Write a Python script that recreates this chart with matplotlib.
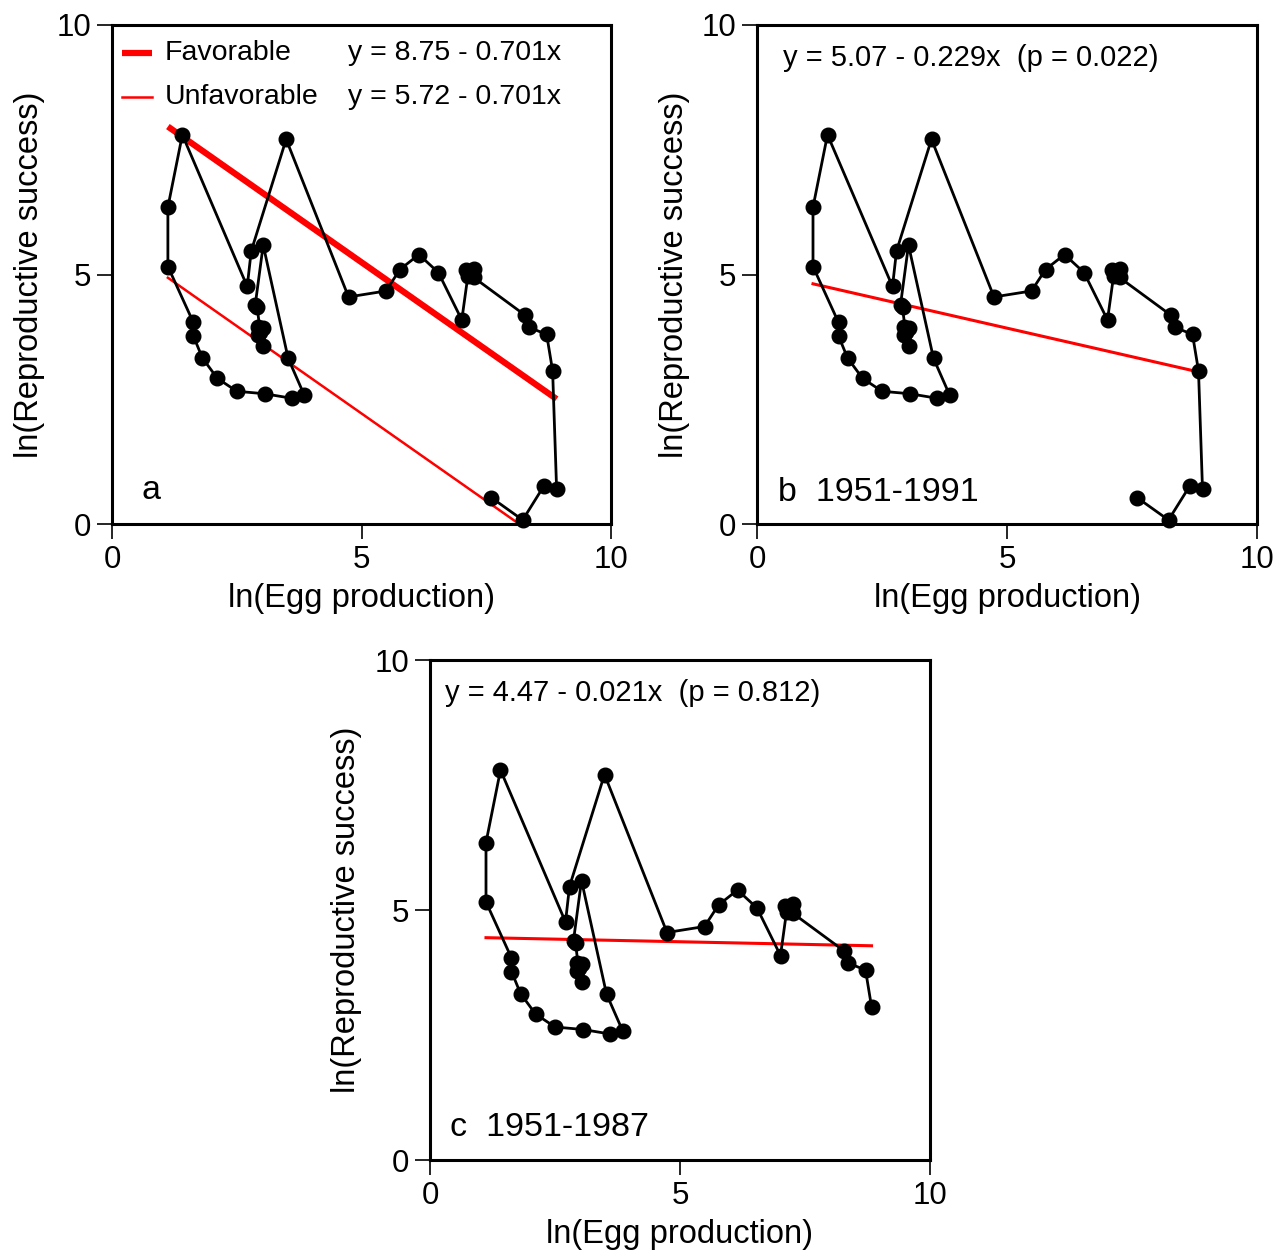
import matplotlib
matplotlib.use("Agg")
import matplotlib.pyplot as plt
import numpy as np

plt.rcParams['font.family'] = ['Liberation Sans', 'DejaVu Sans']

# ---- data (1951-1991) ----
ln_egg = [3.03, 2.93, 3.03, 2.93, 2.97, 2.91, 2.87,
          3.03, 3.53, 3.85, 3.60, 3.06, 2.50, 2.11, 1.81, 1.63, 1.63, 1.12, 1.12, 1.41, 2.71, 2.79,
          3.49, 4.74, 5.49, 5.77, 6.15, 6.54, 7.01,
          7.13, 7.09, 7.26, 7.25,
          8.27, 8.36, 8.71, 8.83,
          8.91, 8.66, 8.23, 7.60]
ln_rs = [3.57, 3.79, 3.92, 3.95, 3.85, 4.34, 4.39,
         5.59, 3.32, 2.59, 2.52, 2.61, 2.66, 2.92, 3.33, 3.77, 4.04, 5.16, 6.35, 7.80, 4.76, 5.47,
         7.71, 4.55, 4.67, 5.10, 5.40, 5.04, 4.09,
         4.96, 5.09, 5.12, 4.94,
         4.19, 3.94, 3.80, 3.07,
         0.70, 0.77, 0.08, 0.53]
n_1987 = 37  # number of years 1951-1987

# regression fits
fav_a, slope_a = 8.75, -0.701
unfav_a = 5.72
fit_b = (5.07, -0.229)
fit_c = (4.47, -0.021)

ticks = [0, 5, 10]
red = '#ff0000'

fig = plt.figure(figsize=(12.87, 12.56), dpi=100)
W, H = 1287, 1256

def make_ax(left, top, w=499, h=499):
    return fig.add_axes([left / W, 1 - (top + h) / H, w / W, h / H])

ax_a = make_ax(112, 25)
ax_b = make_ax(757, 25, 500)
ax_c = make_ax(430, 660, 500, 500)

def style(ax):
    ax.set_xlim(0, 10)
    ax.set_ylim(0, 10)
    ax.set_xticks(ticks)
    ax.set_yticks(ticks)
    ax.set_xticklabels([str(t) for t in ticks])
    ax.set_yticklabels([str(t) for t in ticks])
    ax.tick_params(direction='out', length=11, width=1.2, labelsize=22.5, pad=4)
    for s in ax.spines.values():
        s.set_linewidth(2.2)
    ax.set_xlabel('ln(Egg production)', fontsize=23.5, labelpad=6)
    ax.set_ylabel('ln(Reproductive success)', fontsize=23.5)
    ax.yaxis.set_label_coords(-0.135, 0.5)

def draw_path(ax, x, y):
    ax.plot(x, y, '-', color='black', lw=2.0, marker='o', markersize=10.5,
            markerfacecolor='black', markeredgecolor='black', zorder=3, clip_on=False)

# ---- panel a ----
xa0, xa1 = min(ln_egg), max(ln_egg)
xs = np.array([xa0, xa1])
ax_a.plot(xs, fav_a + slope_a * xs, color=red, lw=4.5, zorder=2, solid_capstyle='butt')
xu1 = -unfav_a / slope_a
xu = np.array([xa0, xu1])
ax_a.plot(xu, unfav_a + slope_a * xu, color=red, lw=1.8, zorder=2)
draw_path(ax_a, ln_egg, ln_rs)
style(ax_a)
ax_a.plot([0.020, 0.080], [0.944, 0.944], transform=ax_a.transAxes, color=red, lw=4.5,
          solid_capstyle='butt')
ax_a.plot([0.020, 0.080], [0.856, 0.856], transform=ax_a.transAxes, color=red, lw=1.8)
ax_a.text(0.106, 0.944, 'Favorable', transform=ax_a.transAxes, fontsize=20.5, va='center')
ax_a.text(0.106, 0.856, 'Unfavorable', transform=ax_a.transAxes, fontsize=20.5, va='center')
ax_a.text(0.472, 0.944, 'y = 8.75 - 0.701x', transform=ax_a.transAxes, fontsize=20.5, va='center')
ax_a.text(0.472, 0.856, 'y = 5.72 - 0.701x', transform=ax_a.transAxes, fontsize=20.5, va='center')
ax_a.text(0.06, 0.068, 'a', transform=ax_a.transAxes, fontsize=24.5, va='center')

# ---- panel b ----
ax_b.plot(xs, fit_b[0] + fit_b[1] * xs, color=red, lw=2.2, zorder=2)
draw_path(ax_b, ln_egg, ln_rs)
style(ax_b)
ax_b.text(0.052, 0.934, 'y = 5.07 - 0.229x  (p = 0.022)', transform=ax_b.transAxes,
          fontsize=21, va='center')
ax_b.text(0.042, 0.064, 'b  1951-1991', transform=ax_b.transAxes, fontsize=24.5, va='center')

# ---- panel c ----
xc = np.array([min(ln_egg[:n_1987]), max(ln_egg[:n_1987])])
ax_c.plot(xc, fit_c[0] + fit_c[1] * xc, color=red, lw=2.2, zorder=2)
draw_path(ax_c, ln_egg[:n_1987], ln_rs[:n_1987])
style(ax_c)
ax_c.text(0.03, 0.934, 'y = 4.47 - 0.021x  (p = 0.812)', transform=ax_c.transAxes,
          fontsize=21, va='center')
ax_c.text(0.04, 0.064, 'c  1951-1987', transform=ax_c.transAxes, fontsize=24.5, va='center')

fig.savefig('out.png', dpi=100)
